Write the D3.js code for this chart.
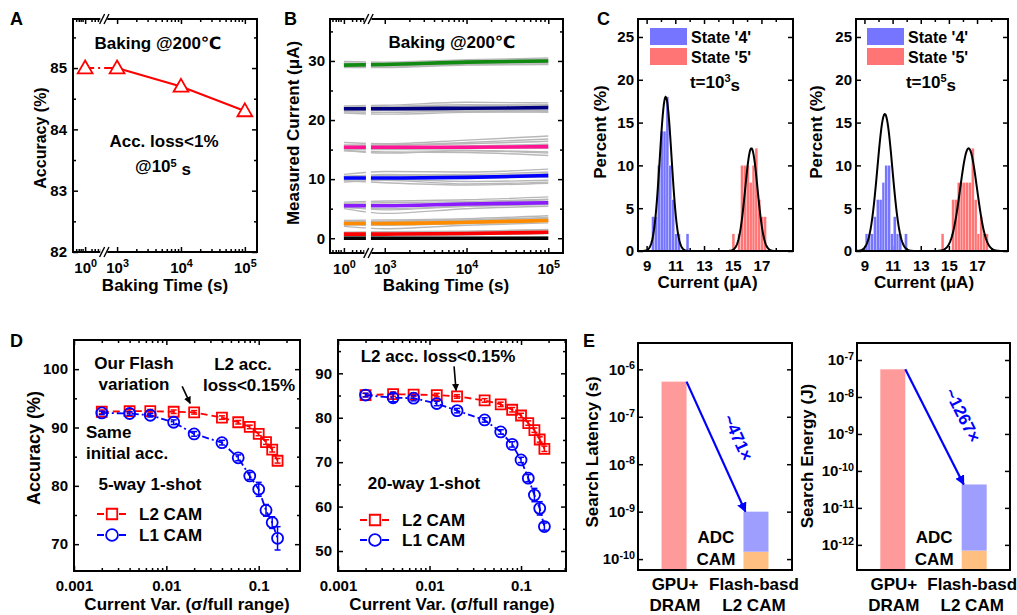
<!DOCTYPE html>
<html>
<head>
<meta charset="utf-8">
<script src="https://cdn.jsdelivr.net/npm/d3@7/dist/d3.min.js"></script>
<style>
html,body{margin:0;padding:0;background:#fff;}
svg text{font-family:"Liberation Sans",Arial,"DejaVu Sans",sans-serif;font-weight:bold;}
</style>
</head>
<body>
<svg id="fig" width="1017" height="615" xmlns="http://www.w3.org/2000/svg"></svg>
<script>
// ================= DATA =================
// Panel A : accuracy vs baking time
const bakeTimes = [1, 1000, 10000, 100000];
const bakeAccuracy = [85.0, 85.0, 84.7, 84.3];

// Panel B : measured current of 8 states vs baking time
const bTimes = [1, 1000, 10000, 100000];
const stateMean = [
  [0.0, 0.0, 0.0, 0.0],
  [0.7, 0.7, 0.8, 1.0],
  [2.5, 2.5, 2.7, 3.0],
  [5.5, 5.5, 5.8, 6.0],
  [10.2, 10.2, 10.3, 10.6],
  [15.4, 15.4, 15.4, 15.5],
  [21.9, 21.9, 22.0, 22.1],
  [29.3, 29.4, 29.8, 30.0]
];
const deviceTraces = [
  [[0.1,0.1,0.1,0.2],[0.0,0.0,0.1,0.1]],
  [[0.3,0.4,0.6,0.9],[0.5,0.6,0.8,1.2],[0.9,0.9,1.1,1.5],[1.0,1.1,1.2,1.4],[0.6,0.7,0.9,1.1],[0.4,0.5,0.7,0.8]],
  [[2.0,1.6,2.2,2.6],[2.2,2.3,2.6,3.0],[2.8,2.9,3.1,3.5],[3.0,3.1,3.3,3.8],[2.6,2.5,2.8,3.2],[2.4,2.2,2.5,2.9],[2.7,2.8,3.0,3.4]],
  [[5.0,4.2,5.0,5.4],[5.2,5.0,5.4,5.7],[5.8,5.7,6.0,6.5],[6.1,6.3,6.5,7.0],[5.6,5.5,5.9,6.2],[5.3,4.8,5.4,5.8],[5.9,6.0,6.2,6.6]],
  [[9.5,9.8,9.2,9.5],[9.8,10.0,9.6,9.8],[10.5,10.7,10.8,11.2],[10.8,11.3,11.2,11.7],[10.0,10.3,10.2,10.4],[9.7,9.4,9.0,9.3],[10.4,10.6,10.5,10.9],[10.2,10.8,10.6,10.8]],
  [[14.8,14.6,14.5,14.0],[15.0,15.0,14.9,14.6],[15.8,15.8,16.2,16.8],[16.2,16.0,16.6,17.3],[15.4,15.3,15.6,15.9],[14.9,14.4,14.8,14.4],[15.6,15.7,16.0,16.4],[15.2,15.1,15.3,15.2]],
  [[21.4,21.3,21.5,21.3],[21.6,21.6,21.7,21.6],[22.2,22.2,22.4,22.6],[22.4,22.5,23.0,22.9],[21.9,21.9,22.0,22.2],[21.2,21.0,21.3,21.4],[22.1,22.3,22.6,22.5]],
  [[29.0,29.0,29.4,29.5],[29.2,29.2,29.6,29.7],[29.6,29.6,30.0,30.3],[29.9,29.8,30.2,30.5],[29.4,29.4,29.8,30.0],[28.9,28.9,29.3,29.4]]
];
const stateColors = ["#000000","#ff0000","#ff8c00","#8a1cff","#0000ff","#ff1493","#000080","#118a11"];

// Panel C : histograms (bin left edge in uA, percent) and Gaussian fits
const binWidth = 0.2;
const c1s4Left = [9.35,9.55,9.75,9.95,10.15,10.35,10.55,10.75,10.95,11.15,11.75];
const c1s4Pct  = [4,4,10,14,14,18,10,6,2,2,2];
const c1s5Left = [14.95,15.35,15.55,15.75,15.95,16.15,16.35,16.55,16.75,16.95,17.15];
const c1s5Pct  = [2,2,10,10,10,8,10,12,6,4,4];
const c2s4Left = [9.05,9.25,9.45,9.65,9.85,10.05,10.25,10.45,10.65,10.85,11.05,11.25,11.45,11.85];
const c2s4Pct  = [2,2,2,4,6,6,8,10,10,2,4,2,2,2];
const c2s5Left = [14.45,15.2,15.4,15.6,15.8,16.0,16.2,16.4,16.6,16.8,17.0,17.2,17.4,17.6];
const c2s5Pct  = [2,6,6,8,8,8,8,8,12,6,2,4,2,2];
const c1FitMean = [10.33, 16.3], c1FitSd = [0.41, 0.43], c1FitPeak = [18, 12];
const c2FitMean = [10.45, 16.4], c2FitSd = [0.53, 0.6], c2FitPeak = [16, 12];

// Panel D : accuracy vs current variation
const var5 = [0.002,0.004,0.0067,0.012,0.02,0.04,0.06,0.08,0.1,0.12,0.14,0.16];
const l2Acc5 = [92.7,92.8,92.8,92.7,92.6,91.7,90.9,90.1,88.9,87.5,86.2,84.3];
const l2Err5 = [0.3,0.3,0.3,0.3,0.3,0.3,0.3,0.3,0.3,0.4,0.4,0.4];
const l1Acc5 = [92.5,92.4,92.1,90.9,88.9,87.4,84.8,81.7,79.4,75.8,73.7,71.0];
const l1Err5 = [0.3,0.3,0.3,0.4,0.4,0.4,0.5,0.6,1.2,1.0,1.0,2.0];
const var20 = [0.002,0.004,0.0067,0.012,0.02,0.04,0.06,0.08,0.1,0.12,0.14,0.16,0.18];
const l2Acc20 = [85.1,85.3,85.2,85.1,84.8,83.9,83.0,81.8,80.5,78.8,77.2,75.1,73.0];
const l2Err20 = [0.4,0.5,0.4,0.4,0.4,0.4,0.5,0.5,0.5,0.5,0.5,0.6,0.6];
const l1Acc20 = [85.1,84.5,84.4,83.2,81.6,79.5,76.8,74.0,70.5,66.4,62.6,59.6,55.5];
const l1Err20 = [0.4,0.9,0.6,0.5,0.5,0.5,0.5,0.6,0.6,0.8,1.5,1.5,0.8];

// Panel E : search latency / energy
const eCategories = ["GPU", "Flash"];
const latencyGPU = 5.5e-7, latencyFlashTotal = 1.0e-9, latencyFlashCAM = 1.43e-10;
const energyGPU = 5.6e-8, energyFlashTotal = 4.3e-11, energyFlashCAM = 7.0e-13;

// ================= HELPERS =================
const svg = d3.select("#fig");
const defs = svg.append("defs");
function arrowMarker(id, color) {
  defs.append("marker").attr("id", id).attr("viewBox", "0 0 10 10")
    .attr("refX", 9).attr("refY", 5).attr("markerWidth", 4.5).attr("markerHeight", 4.5)
    .attr("orient", "auto")
    .append("path").attr("d", "M0,0 L10,5 L0,10 z").attr("fill", color);
}
arrowMarker("arrK", "#000");
arrowMarker("arrB", "#0000ff");

function styleAxis(g) {
  g.attr("font-size", 15).attr("font-family", null);
  g.select(".domain").remove();
  g.selectAll(".tick line").attr("stroke-width", 1.5);
}
function axisSet(g, xs, ys, o) {
  const [x0, x1] = xs.range();
  const [yb, yt] = ys.range();
  const out = {};
  const mk = (fn, sc, vals, size, fmt, tr, pad) => {
    const a = fn(sc).tickValues(vals).tickSize(-size).tickPadding(pad || 5)
      .tickFormat(fmt ? fmt : () => "");
    const gg = g.append("g").attr("transform", tr).call(a);
    styleAxis(gg);
    return gg;
  };
  if (o.xMajor) {
    out.bx = mk(d3.axisBottom, xs, o.xMajor, 5, o.xFmt, `translate(0,${yb})`, o.xPad || 9);
    mk(d3.axisTop, xs, o.xMajor, 5, null, `translate(0,${yt})`);
  }
  if (o.xMinor) {
    mk(d3.axisBottom, xs, o.xMinor, 3, null, `translate(0,${yb})`);
    mk(d3.axisTop, xs, o.xMinor, 3, null, `translate(0,${yt})`);
  }
  out.ly = mk(d3.axisLeft, ys, o.yMajor, 5, o.yFmt, `translate(${x0},0)`, o.yPad || 5);
  mk(d3.axisRight, ys, o.yMajor, 5, null, `translate(${x1},0)`);
  if (o.yMinor) {
    mk(d3.axisLeft, ys, o.yMinor, 3, null, `translate(${x0},0)`);
    mk(d3.axisRight, ys, o.yMinor, 3, null, `translate(${x1},0)`);
  }
  return out;
}
function frame(g, xs, ys) {
  const [x0, x1] = xs.range(); const [yb, yt] = ys.range();
  g.append("rect").attr("x", x0).attr("y", yt).attr("width", x1 - x0).attr("height", yb - yt)
    .attr("fill", "none").attr("stroke", "#000").attr("stroke-width", 2);
}
function clipFor(id, xs, ys) {
  const [x0, x1] = xs.range(); const [yb, yt] = ys.range();
  defs.append("clipPath").attr("id", id).append("rect")
    .attr("x", x0).attr("y", yt).attr("width", x1 - x0).attr("height", yb - yt);
  return `url(#${id})`;
}
function supLabels(axisG, base, expFn) {
  axisG.selectAll(".tick text").each(function(d) {
    const t = d3.select(this);
    t.text(null);
    t.append("tspan").text(base);
    t.append("tspan").attr("dy", "-0.5em").attr("font-size", "0.72em").text(expFn(d));
  });
}
function txt(g, x, y, s, o = {}) {
  const t = g.append("text").attr("x", x).attr("y", y)
    .attr("font-size", o.fs || 17).attr("text-anchor", o.anchor || "middle").text(s);
  if (o.fill) t.attr("fill", o.fill);
  return t;
}
function vtxt(g, x, y, s, fs) {
  return g.append("text").attr("transform", `translate(${x},${y}) rotate(-90)`)
    .attr("font-size", fs || 17).attr("text-anchor", "middle").text(s);
}
function breakMark(g, x, y) {
  g.append("rect").attr("x", x - 4).attr("y", y - 5).attr("width", 7).attr("height", 10).attr("fill", "#fff");
  [-2.2, 2.2].forEach(dx => g.append("line")
    .attr("x1", x + dx - 2.5).attr("y1", y + 5).attr("x2", x + dx + 2.5).attr("y2", y - 5)
    .attr("stroke", "#000").attr("stroke-width", 1.4));
}
const panelLetter = (x, y, s) => txt(svg, x, y, s, { fs: 18, anchor: "start" });

// position on broken log axis: 10^0 sits half a decade left of 10^3
const tpos = t => (t < 10 ? 2.5 : Math.log10(t));
const logMinor = (from, to) => {
  const r = [];
  for (let e = from; e < to; e++) for (let k = 2; k <= 9; k++) r.push(Math.log10(k * Math.pow(10, e)));
  return r;
};
const brokenMinor = [2.36, 2.4, 2.43, 2.46, 2.6, 2.65, 2.7, 2.74, 2.77];

// ================= PANEL A =================
{
  const g = svg.append("g");
  const xs = d3.scaleLinear().domain([2.31, 5.19]).range([73, 257]);
  const ys = d3.scaleLinear().domain([82, 85.8]).range([252, 19]);
  const ax = axisSet(g, xs, ys, {
    xMajor: [2.5, 3, 4, 5], xMinor: logMinor(3, 5).concat(brokenMinor), xFmt: d => "x", xPad: 10,
    yMajor: [82, 83, 84, 85], yMinor: [82.5, 83.5, 84.5, 85.5], yFmt: d3.format("d"), yPad: 6
  });
  supLabels(ax.bx, "10", d => (d === 2.5 ? "0" : String(d)));
  const pts = bakeTimes.map((t, i) => [xs(tpos(t)), ys(bakeAccuracy[i])]);
  const line = d3.line();
  g.append("path").attr("d", line(pts.slice(0, 2))).attr("fill", "none").attr("stroke", "#ff0000")
    .attr("stroke-width", 2).attr("stroke-dasharray", "9,4,2,4");
  g.append("path").attr("d", line(pts.slice(1))).attr("fill", "none").attr("stroke", "#ff0000")
    .attr("stroke-width", 2);
  g.selectAll(".tri").data(pts).join("path")
    .attr("transform", d => `translate(${d[0]},${d[1] + 1})`)
    .attr("d", d3.symbol(d3.symbolTriangle, 95))
    .attr("fill", "#fff").attr("stroke", "#ff0000").attr("stroke-width", 1.8);
  frame(g, xs, ys);
  breakMark(g, xs(2.8), 19); breakMark(g, xs(2.8), 252);
  txt(g, 158, 49, "Baking @200℃");
  txt(g, 164, 147, "Acc. loss<1%");
  const t2 = txt(g, 163, 172, "@10");
  t2.append("tspan").attr("dy", "-0.45em").attr("font-size", "0.65em").text("5");
  t2.append("tspan").attr("dy", "0.45em").text(" s");
  vtxt(g, 46, 138, "Accuracy (%)", 16);
  txt(g, 165, 291, "Baking Time (s)");
  panelLetter(10, 25, "A");
}

// ================= PANEL B =================
{
  const g = svg.append("g");
  const xs = d3.scaleLinear().domain([2.33, 5.18]).range([330, 563]);
  const ys = d3.scaleLinear().domain([-2.5, 37.1]).range([253, 19]);
  const ax = axisSet(g, xs, ys, {
    xMajor: [2.5, 3, 4, 5], xMinor: logMinor(3, 5).concat(brokenMinor), xFmt: d => "x", xPad: 10,
    yMajor: [0, 10, 20, 30], yMinor: [5, 15, 25, 35], yFmt: d3.format("d"), yPad: 5
  });
  supLabels(ax.bx, "10", d => (d === 2.5 ? "0" : String(d)));
  const clip = clipFor("clipB", xs, ys);
  const pg = g.append("g").attr("clip-path", clip);
  const line = d3.line().x((d, i) => xs(tpos(bTimes[i]))).y(d => ys(d)).curve(d3.curveMonotoneX);
  deviceTraces.forEach(tr => tr.forEach(vals => {
    pg.append("path").attr("d", line(vals)).attr("fill", "none")
      .attr("stroke", "#b8b8b8").attr("stroke-width", 1.4);
  }));
  stateMean.forEach((vals, s) => {
    pg.append("path").attr("d", line(vals)).attr("fill", "none")
      .attr("stroke", stateColors[s]).attr("stroke-width", 3.6);
  });
  pg.append("rect").attr("x", xs(2.8) - 2.5).attr("y", 20).attr("width", 5).attr("height", 232).attr("fill", "#fff");
  frame(g, xs, ys);
  breakMark(g, xs(2.8), 19); breakMark(g, xs(2.8), 253);
  txt(g, 452, 48, "Baking @200℃");
  vtxt(g, 299, 133, "Measured Current (μA)");
  txt(g, 446, 291, "Baking Time (s)");
  panelLetter(284, 25, "B");
}

// ================= PANEL C =================
function histPanel(cfg) {
  const g = svg.append("g");
  const xs = d3.scaleLinear().domain([8.4, 19.2]).range(cfg.xr);
  const ys = d3.scaleLinear().domain([0, 27.1]).range([251, 19]);
  axisSet(g, xs, ys, {
    xMajor: [9, 11, 13, 15, 17], xMinor: [10, 12, 14, 16, 18], xFmt: d3.format("d"), xPad: 9,
    yMajor: [0, 5, 10, 15, 20, 25], yFmt: d3.format("d"), yPad: 4
  });
  const clip = clipFor(cfg.id, xs, ys);
  const pg = g.append("g").attr("clip-path", clip);
  const bars = (lefts, pcts, color) => pg.selectAll(null).data(lefts).join("rect")
    .attr("x", d => xs(d)).attr("width", d => xs(d + binWidth) - xs(d))
    .attr("y", (d, i) => ys(pcts[i])).attr("height", (d, i) => ys(0) - ys(pcts[i]))
    .attr("fill", color).attr("stroke", "#fff").attr("stroke-width", 0.25);
  bars(cfg.s4L, cfg.s4P, "#7575ff");
  bars(cfg.s5L, cfg.s5P, "#ff7575");
  const xsamp = d3.range(8.4, 19.2, 0.04);
  [0, 1].forEach(k => {
    const pts = xsamp.map(x => [x, cfg.pk[k] * Math.exp(-Math.pow(x - cfg.mu[k], 2) / (2 * cfg.sd[k] * cfg.sd[k]))]);
    pg.append("path").attr("d", d3.line().x(d => xs(d[0])).y(d => ys(d[1]))(pts))
      .attr("fill", "none").attr("stroke", "#000").attr("stroke-width", 2);
  });
  frame(g, xs, ys);
  const lx = cfg.legX;
  g.append("rect").attr("x", lx).attr("y", 28).attr("width", 37).attr("height", 17).attr("fill", "#7575ff");
  g.append("rect").attr("x", lx).attr("y", 48).attr("width", 37).attr("height", 17).attr("fill", "#ff7575");
  txt(g, lx + 41, 43, "State '4'", { fs: 16, anchor: "start" });
  txt(g, lx + 41, 63, "State '5'", { fs: 16, anchor: "start" });
  const tt = txt(g, cfg.tX, 88, "t=10", { fs: 17 });
  tt.append("tspan").attr("dy", "-0.5em").attr("font-size", "0.65em").text(cfg.tExp);
  tt.append("tspan").attr("dy", "0.5em").text("s");
  vtxt(g, cfg.yLabX, 132, "Percent (%)");
  txt(g, (cfg.xr[0] + cfg.xr[1]) / 2 - 8, 288, "Current (μA)");
}
histPanel({ id: "clipC1", xr: [638, 793], s4L: c1s4Left, s4P: c1s4Pct, s5L: c1s5Left, s5P: c1s5Pct,
  mu: c1FitMean, sd: c1FitSd, pk: c1FitPeak, legX: 650, tX: 715, tExp: "3", yLabX: 606 });
histPanel({ id: "clipC2", xr: [856, 1008], s4L: c2s4Left, s4P: c2s4Pct, s5L: c2s5Left, s5P: c2s5Pct,
  mu: c2FitMean, sd: c2FitSd, pk: c2FitPeak, legX: 867, tX: 931, tExp: "5", yLabX: 822 });
panelLetter(597, 25, "C");

// ================= PANEL D =================
function dPanel(cfg) {
  const g = svg.append("g");
  const xs = d3.scaleLog().domain(cfg.xd).range(cfg.xr);
  const ys = d3.scaleLinear().domain(cfg.yd).range([571, 340]);
  const minors = [];
  [0.001, 0.01, 0.1].forEach(b => { for (let k = 2; k <= 9; k++) if (b * k <= cfg.xd[1]) minors.push(b * k); });
  axisSet(g, xs, ys, {
    xMajor: [0.001, 0.01, 0.1], xMinor: minors, xFmt: d => String(d), xPad: 9,
    yMajor: cfg.yMajor, yMinor: cfg.yMinor, yFmt: d3.format("d"), yPad: 6
  });
  const series = [
    { x: cfg.x, y: cfg.l2, e: cfg.l2e, color: "#ff0000", dash: "7,4", sym: d3.symbolSquare },
    { x: cfg.x, y: cfg.l1, e: cfg.l1e, color: "#0000ff", dash: "7,3,2,3", sym: d3.symbolCircle }
  ];
  series.forEach(s => {
    const line = d3.line().x((d, i) => xs(s.x[i])).y(d => ys(d));
    g.append("path").attr("d", line(s.y)).attr("fill", "none").attr("stroke", s.color)
      .attr("stroke-width", 1.8).attr("stroke-dasharray", s.dash);
    s.y.forEach((v, i) => {
      const cx = xs(s.x[i]);
      g.append("line").attr("x1", cx).attr("x2", cx).attr("y1", ys(v - s.e[i])).attr("y2", ys(v + s.e[i]))
        .attr("stroke", s.color).attr("stroke-width", 1.5);
      [v - s.e[i], v + s.e[i]].forEach(w => g.append("line").attr("x1", cx - 3).attr("x2", cx + 3)
        .attr("y1", ys(w)).attr("y2", ys(w)).attr("stroke", s.color).attr("stroke-width", 1.5));
    });
    g.selectAll(null).data(s.y).join("path")
      .attr("transform", (d, i) => `translate(${xs(s.x[i])},${ys(d)})`)
      .attr("d", d3.symbol(s.sym, s.sym === d3.symbolSquare ? 100 : 95))
      .attr("fill", "none").attr("stroke", s.color).attr("stroke-width", 1.8);
  });
  // arrow to "our flash variation" point (x = 0.02)
  const ai = cfg.x.indexOf(0.02);
  const ex = xs(0.02) + cfg.arrowEnd[0], ey = ys(cfg.l2[ai]) + cfg.arrowEnd[1];
  g.append("line").attr("x1", ex + cfg.arrowLen[0]).attr("y1", ey + cfg.arrowLen[1])
    .attr("x2", ex).attr("y2", ey).attr("stroke", "#000").attr("stroke-width", 1.6)
    .attr("marker-end", "url(#arrK)");
  // legend
  series.forEach((s, k) => {
    const ly = cfg.legY[k];
    g.append("line").attr("x1", cfg.legX).attr("x2", cfg.legX + 30).attr("y1", ly).attr("y2", ly)
      .attr("stroke", s.color).attr("stroke-width", 1.8).attr("stroke-dasharray", "7,4");
    g.append("path").attr("transform", `translate(${cfg.legX + 15},${ly})`)
      .attr("d", d3.symbol(s.sym, 110)).attr("fill", "#fff").attr("stroke", s.color).attr("stroke-width", 1.8);
    txt(g, cfg.legX + 42, ly + 6, k === 0 ? "L2 CAM" : "L1 CAM", { anchor: "start" });
  });
  frame(g, xs, ys);
  txt(g, (cfg.xr[0] + cfg.xr[1]) / 2 + cfg.xlabShift, 610, "Current Var. (σ/full range)");
  return g;
}
{
  const g1 = dPanel({ xd: [0.001, 0.28], xr: [74, 300], yd: [65.4, 105], yMajor: [70, 80, 90, 100], yMinor: [75, 85, 95],
    x: var5, l2: l2Acc5, l2e: l2Err5, l1: l1Acc5, l1e: l1Err5,
    arrowEnd: [-4, -9], arrowLen: [-8, -17], legX: 97, legY: [514, 535], xlabShift: 0 });
  txt(g1, 134, 369, "Our Flash");
  txt(g1, 134, 390, "variation");
  txt(g1, 243, 370, "L2 acc.");
  txt(g1, 249, 391, "loss<0.15%");
  txt(g1, 86, 438, "Same", { anchor: "start" });
  txt(g1, 86, 459, "initial acc.", { anchor: "start" });
  txt(g1, 150, 490, "5-way 1-shot");
  vtxt(g1, 40, 448, "Accuracy (%)", 18);
  const g2 = dPanel({ xd: [0.001, 0.31], xr: [338, 566], yd: [45.5, 97.5], yMajor: [50, 60, 70, 80, 90], yMinor: [55, 65, 75, 85, 95],
    x: var20, l2: l2Acc20, l2e: l2Err20, l1: l1Acc20, l1e: l1Err20,
    arrowEnd: [-1, -6], arrowLen: [-2, -24], legX: 360, legY: [520, 540], xlabShift: 0 });
  txt(g2, 438, 362, "L2 acc. loss<0.15%");
  txt(g2, 424, 489, "20-way 1-shot");
  panelLetter(10, 347, "D");
}

// ================= PANEL E =================
function ePanel(cfg) {
  const g = svg.append("g");
  const xs = d3.scalePoint().domain(eCategories).range(cfg.xr).padding(0.44);
  const ys = d3.scaleLog().domain(cfg.yd).range([570, 343]);
  const ax = axisSet(g, xs, ys, { yMajor: cfg.yTicks, yFmt: d => "x", yPad: 3 });
  supLabels(ax.ly, "10", d => String(Math.round(Math.log10(d))));
  const bw = 25, ybot = ys(cfg.yd[0]);
  const bar = (cat, top, bottomY, color) => g.append("rect").attr("x", xs(cat) - bw / 2).attr("width", bw)
    .attr("y", ys(top)).attr("height", bottomY - ys(top)).attr("fill", color);
  bar("GPU", cfg.gpu, ybot, "#ff9a9a");
  bar("Flash", cfg.cam, ybot, "#ffbf80");
  bar("Flash", cfg.total, ys(cfg.cam), "#9e9eff");
  frame(g, xs, ys);
  const x1 = xs("GPU") + bw / 2, y1 = ys(cfg.gpu);
  const x2 = xs("Flash") - bw / 2 + 2, y2 = ys(cfg.total);
  g.append("line").attr("x1", x1).attr("y1", y1).attr("x2", x2).attr("y2", y2)
    .attr("stroke", "#0000ff").attr("stroke-width", 2.2).attr("marker-end", "url(#arrB)");
  const ang = Math.atan2(y2 - y1, x2 - x1) * 180 / Math.PI;
  const mx = (x1 + x2) / 2, my = (y1 + y2) / 2;
  const nx = -(y2 - y1), ny = (x2 - x1), nl = Math.hypot(nx, ny);
  const off = -cfg.textOff;
  g.append("text").attr("transform", `translate(${mx + nx / nl * off + cfg.textAlong[0]},${my + ny / nl * off + cfg.textAlong[1]}) rotate(${ang})`)
    .attr("text-anchor", "middle").attr("font-size", 17).attr("fill", "#0000ff").text(cfg.ratio);
  txt(g, xs("Flash") - 40, 543, "ADC");
  txt(g, xs("Flash") - 40, 565, "CAM");
  txt(g, xs("GPU") + 1, 590, "GPU+");
  txt(g, xs("GPU") + 1, 611, "DRAM");
  txt(g, xs("Flash") - 2, 590, "Flash-basd");
  txt(g, xs("Flash") - 2, 611, "L2 CAM");
  vtxt(g, cfg.yLabX, cfg.yLabY, cfg.yLab);
}
ePanel({ xr: [638, 792], yd: [Math.pow(10, -10.23), Math.pow(10, -5.445)],
  yTicks: [1e-10, 1e-9, 1e-8, 1e-7, 1e-6], gpu: latencyGPU, total: latencyFlashTotal, cam: latencyFlashCAM,
  ratio: "~471×", textOff: 16, textAlong: [2, 0], yLabX: 598, yLabY: 452, yLab: "Search Latency (s)" });
ePanel({ xr: [857, 1010], yd: [Math.pow(10, -12.68), Math.pow(10, -6.54)],
  yTicks: [1e-12, 1e-11, 1e-10, 1e-9, 1e-8, 1e-7], gpu: energyGPU, total: energyFlashTotal, cam: energyFlashCAM,
  ratio: "~1267×", textOff: 20, textAlong: [5, 0], yLabX: 813, yLabY: 456, yLab: "Search Energy (J)" });
panelLetter(583, 347, "E");
</script>
</body>
</html>
